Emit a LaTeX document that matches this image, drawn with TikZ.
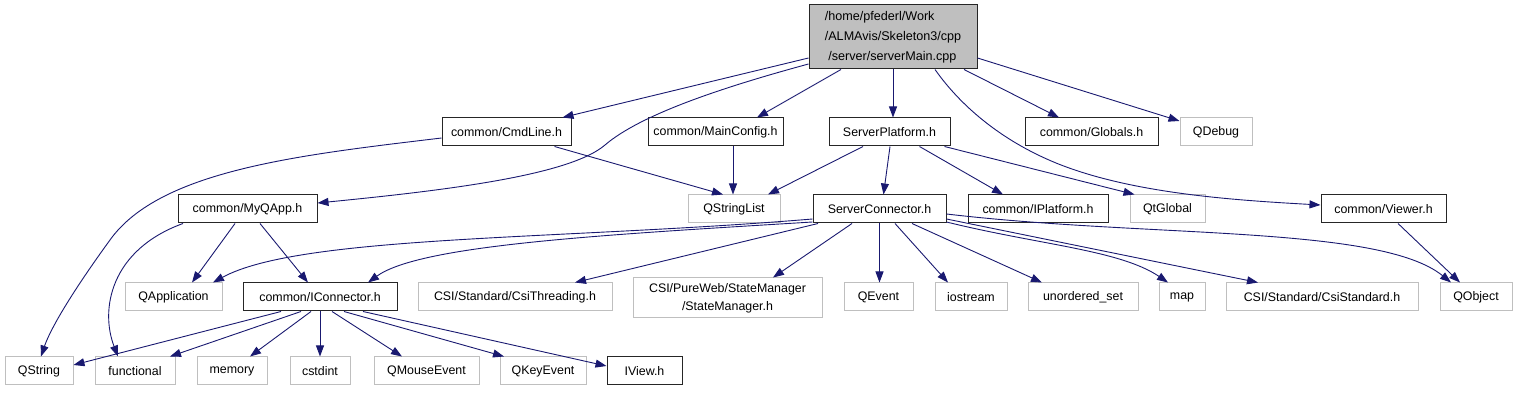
\documentclass[tikz,border=0pt]{standalone}
\usepackage{fontspec}
\setmainfont{Liberation Sans}
\usetikzlibrary{arrows.meta}
\definecolor{edgeblue}{HTML}{191970}
\definecolor{grayline}{HTML}{BFBFBF}
\definecolor{rootfill}{HTML}{BFBFBF}
\tikzset{
  box/.style={draw=black!85, line width=1pt, fill=white, minimum height=28pt, inner sep=0pt, font=\fontsize{12.4}{19}\selectfont, align=center},
  gbox/.style={draw=grayline, line width=1pt, fill=white, minimum height=28pt, inner sep=0pt, font=\fontsize{12.4}{19}\selectfont, align=center},
  rootbox/.style={draw=black!85, line width=1pt, fill=rootfill, minimum width=168pt, minimum height=64pt, inner sep=0pt, font=\fontsize{12.6}{20}\selectfont, align=left},
  dep/.style={draw=edgeblue, line width=0.9pt, -{Triangle[length=11pt,width=8pt]}, fill=none}
}
\begin{document}
\begin{tikzpicture}[x=1pt,y=-1pt]
\useasboundingbox (0,0) rectangle (1516,403);
% row 1
\node[rootbox] (root) at (893,37) {/home/pfederl/Work\\/ALMAvis/Skeleton3/cpp\\\ /server/serverMain.cpp};
% row 2
\node[box, minimum width=129pt] (cmd) at (506.5,132) {common/CmdLine.h};
\node[box, minimum width=135pt] (mainc) at (715.5,132) {common/MainConfig.h};
\node[box, minimum width=121pt] (spl) at (889.5,132) {ServerPlatform.h};
\node[box, minimum width=133pt] (glob) at (1091.5,132) {common/Globals.h};
\node[gbox, minimum width=72pt] (qdebug) at (1216,132) {QDebug};
% row 3
\node[box, minimum width=139pt] (myqapp) at (247.5,209) {common/MyQApp.h};
\node[gbox, minimum width=92pt] (qsl) at (734,209) {QStringList};
\node[box, minimum width=133pt] (sconn) at (879.5,209) {ServerConnector.h};
\node[box, minimum width=140pt] (iplat) at (1038,209) {common/IPlatform.h};
\node[gbox, minimum width=75pt] (qtglobal) at (1167.5,209) {QtGlobal};
\node[box, minimum width=125pt] (viewer) at (1383.5,209) {common/Viewer.h};
% row 4
\node[gbox, minimum width=97pt] (qapp) at (173.5,297) {QApplication};
\node[box, minimum width=154pt] (icon) at (320,297) {common/IConnector.h};
\node[gbox, minimum width=194pt] (csithr) at (515,297) {CSI/Standard/CsiThreading.h};
\node[gbox, minimum width=189pt, minimum height=40pt, font=\fontsize{12.4}{18}\selectfont] (stm) at (727.5,298) {CSI/PureWeb/StateManager\\/StateManager.h};
\node[gbox, minimum width=69pt] (qevent) at (878.5,297) {QEvent};
\node[gbox, minimum width=72pt] (iostream) at (971,297) {iostream};
\node[gbox, minimum width=110pt] (uset) at (1083,297) {unordered\_set};
\node[gbox, minimum width=46pt] (map) at (1182,297) {map};
\node[gbox, minimum width=192pt] (csistd) at (1322,297) {CSI/Standard/CsiStandard.h};
\node[gbox, minimum width=72pt] (qobject) at (1476,297) {QObject};
% row 5
\node[gbox, minimum width=68pt] (qstring) at (39,371) {QString};
\node[gbox, minimum width=80pt] (functional) at (135,371) {functional};
\node[gbox, minimum width=70pt] (memory) at (232,371) {memory};
\node[gbox, minimum width=60pt] (cstdint) at (320,371) {cstdint};
\node[gbox, minimum width=105pt] (qmouse) at (426.5,371) {QMouseEvent};
\node[gbox, minimum width=86pt] (qkey) at (543,371) {QKeyEvent};
\node[box, minimum width=75pt] (iview) at (644.5,371) {IView.h};

% edges from root
\draw[dep] ([yshift=-21pt]root.west) -- ([xshift=56pt]cmd.north);
\draw[dep] ([yshift=-27pt]root.west) .. controls (720,88) and (640,115) .. (605,145) .. controls (570,175) and (450,190) .. ([yshift=6pt]myqapp.east);
\draw[dep] ([xshift=-52pt]root.south) -- ([xshift=41.5pt]mainc.north);
\draw[dep] (root.south) -- ([xshift=3.5pt]spl.north);
\draw[dep] ([xshift=71pt]root.south) -- ([xshift=-32.5pt]glob.north);
\draw[dep] ([yshift=-21pt]root.east) -- ([yshift=11pt]qdebug.west);
\draw[dep] ([xshift=42pt]root.south) .. controls (960,105) and (1000,140) .. (1056,163) .. controls (1130,193) and (1230,200) .. ([yshift=4pt]viewer.west);
% CmdLine
\draw[dep] ([yshift=-6pt]cmd.west) .. controls (300,155) and (160,170) .. (110,240) .. controls (70,295) and (50,330) .. ([xshift=2pt]qstring.north);
\draw[dep] ([xshift=48pt]cmd.south) -- ([xshift=-11pt]qsl.north);
% MainConfig
\draw[dep] ([xshift=17.5pt]mainc.south) -- ([xshift=-1pt]qsl.north);
% ServerPlatform
\draw[dep] ([xshift=-26.5pt]spl.south) -- ([xshift=34pt]qsl.north);
\draw[dep] ([xshift=0.5pt]spl.south) -- ([xshift=4pt]sconn.north);
\draw[dep] ([xshift=30pt]spl.south) -- ([xshift=-35pt]iplat.north);
\draw[dep] ([xshift=55pt]spl.south) -- ([xshift=5pt]qtglobal.north west);
% Viewer
\draw[dep] ([xshift=14.5pt]viewer.south) -- ([xshift=-16pt]qobject.north);
% MyQApp
\draw[dep] ([xshift=-64.5pt]myqapp.south) .. controls (110,250) and (100,310) .. ([xshift=-17pt]functional.north);
\draw[dep] ([xshift=-12.5pt]myqapp.south) -- ([xshift=18.5pt]qapp.north);
\draw[dep] ([xshift=12.5pt]myqapp.south) -- ([xshift=-12pt]icon.north);
% ServerConnector
\draw[dep] ([yshift=-10pt]sconn.west) .. controls (560,240) and (300,235) .. ([xshift=39.5pt]qapp.north);
\draw[dep] ([yshift=-13pt]sconn.west) .. controls (600,235) and (420,245) .. ([xshift=48pt]icon.north);
\draw[dep] ([xshift=-61.5pt]sconn.south) -- ([xshift=60pt]csithr.north);
\draw[dep] ([xshift=-27.5pt]sconn.south) -- ([xshift=45.5pt]stm.north);
\draw[dep] (sconn.south) -- ([xshift=1pt]qevent.north);
\draw[dep] ([xshift=15.5pt]sconn.south) -- ([xshift=-23pt]iostream.north);
\draw[dep] ([xshift=32.5pt]sconn.south) -- ([xshift=-41pt]uset.north);
\draw[dep] ([yshift=-13pt]sconn.east) .. controls (1040,245) and (1120,250) .. ([xshift=-14pt]map.north);
\draw[dep] ([yshift=-10pt]sconn.east) -- ([xshift=-64pt]csistd.north);
\draw[dep] ([yshift=-5pt]sconn.east) .. controls (1150,238) and (1380,225) .. ([xshift=-25pt]qobject.north);
% IConnector
\draw[dep] ([xshift=-39pt]icon.south) -- ([yshift=6pt]qstring.east);
\draw[dep] ([xshift=-19pt]icon.south) -- ([xshift=35pt]functional.north);
\draw[dep] ([xshift=-9pt]icon.south) -- ([xshift=18pt]memory.north);
\draw[dep] (icon.south) -- (cstdint.north);
\draw[dep] ([xshift=12pt]icon.south) -- ([xshift=-24.5pt]qmouse.north);
\draw[dep] ([xshift=24pt]icon.south) -- ([xshift=-39pt]qkey.north);
\draw[dep] ([xshift=43pt]icon.south) -- ([yshift=5pt]iview.west);
\end{tikzpicture}
\end{document}
